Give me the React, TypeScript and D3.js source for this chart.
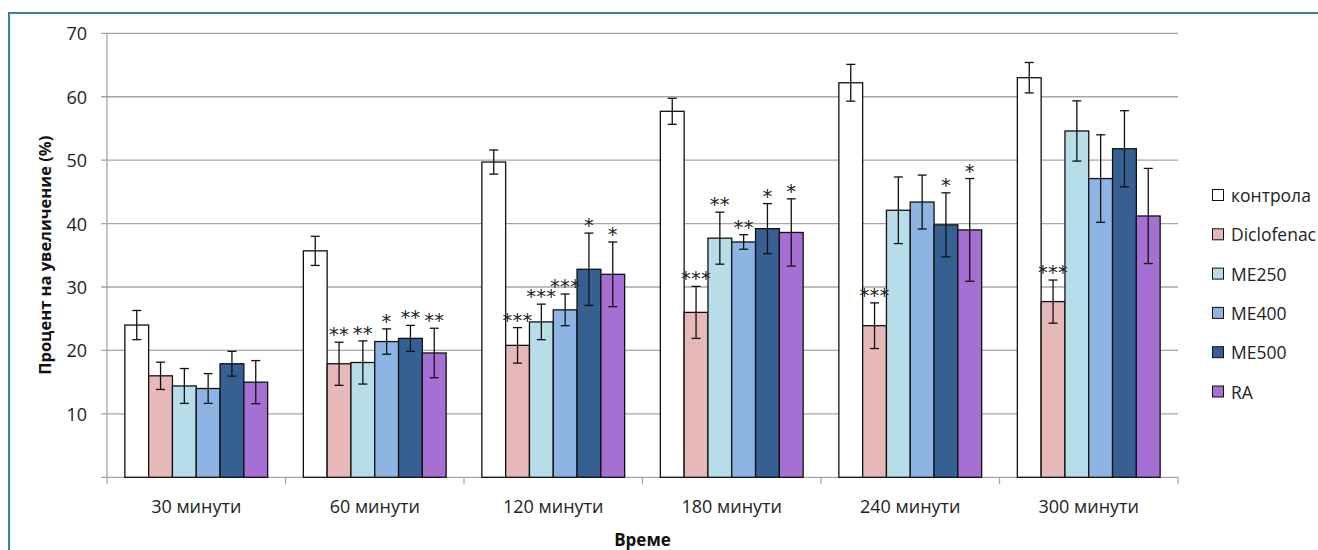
import React from "react";
import * as d3 from "d3";

// Time points on the x axis
const categories = ["30 минути", "60 минути", "120 минути", "180 минути", "240 минути", "300 минути"];

// Treatment groups
const seriesNames = ["контрола", "Diclofenac", "ME250", "ME400", "ME500", "RA"];
const seriesColors = ["#ffffff", "#e6b9b8", "#b7dde8", "#8eb4e3", "#376092", "#a66fd3"];

// Mean increase (%) per group and time point
const controlValues = [24.0, 35.7, 49.7, 57.7, 62.2, 63.0];
const diclofenacValues = [16.0, 17.9, 20.8, 26.0, 23.9, 27.7];
const me250Values = [14.4, 18.1, 24.5, 37.7, 42.1, 54.6];
const me400Values = [14.0, 21.4, 26.4, 37.1, 43.4, 47.1];
const me500Values = [17.9, 21.9, 32.8, 39.2, 39.8, 51.8];
const raValues = [15.0, 19.6, 32.0, 38.6, 39.0, 41.2];

// Error bar half-lengths
const controlErrors = [2.3, 2.3, 1.9, 2.05, 2.9, 2.4];
const diclofenacErrors = [2.15, 3.4, 2.8, 4.1, 3.6, 3.4];
const me250Errors = [2.75, 3.4, 2.8, 4.1, 5.25, 4.75];
const me400Errors = [2.35, 2.0, 2.5, 1.15, 4.25, 6.9];
const me500Errors = [1.95, 2.05, 5.7, 3.95, 5.05, 6.0];
const raErrors = [3.4, 3.9, 5.1, 5.3, 8.1, 7.5];

// Significance markers
const controlStars = ["", "", "", "", "", ""];
const diclofenacStars = ["", "**", "***", "***", "***", "***"];
const me250Stars = ["", "**", "***", "**", "", ""];
const me400Stars = ["", "*", "***", "**", "", ""];
const me500Stars = ["", "**", "*", "*", "*", ""];
const raStars = ["", "**", "*", "*", "*", ""];

const yTicks = [10, 20, 30, 40, 50, 60, 70];

const allValues = [controlValues, diclofenacValues, me250Values, me400Values, me500Values, raValues];
const allErrors = [controlErrors, diclofenacErrors, me250Errors, me400Errors, me500Errors, raErrors];
const allStars = [controlStars, diclofenacStars, me250Stars, me400Stars, me500Stars, raStars];

const W = 1318;
const H = 550;
const plotLeft = 107;
const plotRight = 1178;
const plotTop = 33.3;
const plotBottom = 477.3;
const FONT = "'Open Sans', 'Noto Sans', sans-serif";

export default function App() {
  const x0 = d3.scaleBand<string>().domain(categories).range([plotLeft, plotRight]).padding(0);
  const x1 = d3
    .scaleBand<string>()
    .domain(seriesNames)
    .range([0, x0.bandwidth()])
    .paddingInner(0)
    .paddingOuter(0.75);
  const y = d3.scaleLinear().domain([0, 70]).range([plotBottom, plotTop]);

  const bw = x1.bandwidth();
  const capHalf = 4.5;
  const gridColor = "#a6a6a6";

  return (
    <svg
      width={W}
      height={H}
      style={{ position: "absolute", left: 0, top: 0, display: "block", background: "#fff" }}
    >
      {/* outer frame */}
      <rect x={9} y={13} width={W + 50} height={H + 50} fill="none" stroke="#31859c" strokeWidth={2} />

      {/* gridlines and y ticks */}
      {yTicks.map((t) => (
        <g key={t}>
          <line x1={plotLeft - 6} x2={plotRight} y1={y(t)} y2={y(t)} stroke={gridColor} strokeWidth={1.3} />
          <text
            x={87}
            y={y(t)}
            textAnchor="end"
            dominantBaseline="central"
            fontFamily={FONT}
            fontSize={18}
            fill="#222"
          >
            {t}
          </text>
        </g>
      ))}

      {/* axes */}
      <line x1={plotLeft} x2={plotLeft} y1={plotTop} y2={plotBottom} stroke={gridColor} strokeWidth={1.3} />
      <line x1={plotLeft - 6} x2={plotRight} y1={plotBottom} y2={plotBottom} stroke={gridColor} strokeWidth={1.3} />
      {categories.map((c) => (
        <line
          key={"tk" + c}
          x1={x0(c)!}
          x2={x0(c)!}
          y1={plotBottom}
          y2={plotBottom + 7}
          stroke={gridColor}
          strokeWidth={1.3}
        />
      ))}
      <line x1={plotRight} x2={plotRight} y1={plotBottom} y2={plotBottom + 7} stroke={gridColor} strokeWidth={1.3} />

      {/* category labels */}
      {categories.map((c) => (
        <text
          key={"lbl" + c}
          x={x0(c)! + x0.bandwidth() / 2}
          y={513}
          textAnchor="middle"
          fontFamily={FONT}
          fontSize={18}
          fill="#222"
        >
          {c}
        </text>
      ))}

      {/* bars */}
      {categories.map((c, ci) => (
        <g key={"grp" + c} transform={`translate(${x0(c)},0)`}>
          {seriesNames.map((s, si) => {
            const v = allValues[si][ci];
            const bx = x1(s)!;
            return (
              <rect
                key={s}
                x={bx}
                y={y(v)}
                width={bw}
                height={plotBottom - y(v)}
                fill={seriesColors[si]}
                stroke="#111"
                strokeWidth={1.3}
              />
            );
          })}
          {seriesNames.map((s, si) => {
            const v = allValues[si][ci];
            const e = allErrors[si][ci];
            const cx = x1(s)! + bw / 2;
            const top = y(v + e);
            const bot = y(v - e);
            const star = allStars[si][ci];
            return (
              <g key={"err" + s}>
                <line x1={cx} x2={cx} y1={top} y2={bot} stroke="#111" strokeWidth={1.3} />
                <line x1={cx - capHalf} x2={cx + capHalf} y1={top} y2={top} stroke="#111" strokeWidth={1.3} />
                <line x1={cx - capHalf} x2={cx + capHalf} y1={bot} y2={bot} stroke="#111" strokeWidth={1.3} />
                {star && (
                  <text
                    x={cx}
                    y={top - 1}
                    textAnchor="middle"
                    fontFamily="'DejaVu Sans', sans-serif"
                    fontSize={19.5}
                    letterSpacing={0.3}
                    fill="#222"
                  >
                    {star}
                  </text>
                )}
              </g>
            );
          })}
        </g>
      ))}

      {/* axis titles */}
      <text
        transform={`translate(51,${(plotTop + plotBottom) / 2}) rotate(-90)`}
        textAnchor="middle"
        fontFamily={FONT}
        fontSize={16.5}
        fontWeight="bold"
        fill="#111"
      >
        Процент на увеличение (%)
      </text>
      <text
        x={(plotLeft + plotRight) / 2}
        y={546}
        textAnchor="middle"
        fontFamily={FONT}
        fontSize={17}
        fontWeight="bold"
        fill="#111"
      >
        Време
      </text>

      {/* legend */}
      {seriesNames.map((s, si) => {
        const ly = 195 + si * 39.3;
        return (
          <g key={"leg" + s}>
            <rect x={1212.5} y={ly - 5.5} width={11} height={11} fill={seriesColors[si]} stroke="#111" strokeWidth={1} />
            <text x={1231} y={ly} dominantBaseline="central" fontFamily={FONT} fontSize={17.5} fill="#222">
              {s}
            </text>
          </g>
        );
      })}
    </svg>
  );
}
